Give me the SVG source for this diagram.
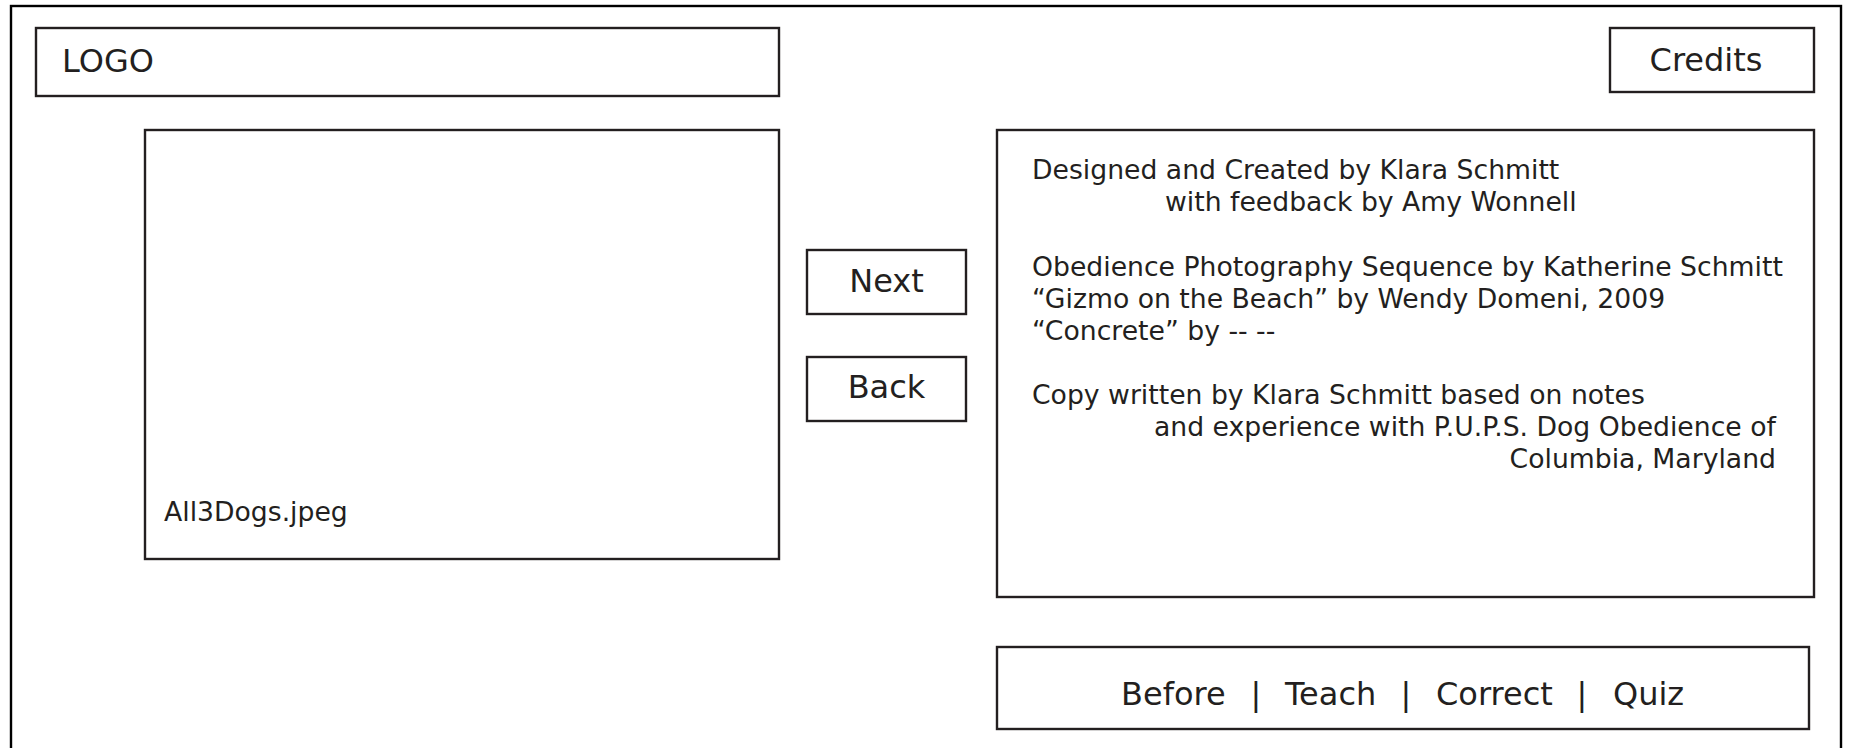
<svg xmlns="http://www.w3.org/2000/svg" width="1849" height="748" viewBox="0 0 1849 748">
<style>
.box{fill:#fff;stroke:#231f20;stroke-width:2.4}
.frame{fill:#fff;stroke:#000;stroke-width:2.4}
.t{font-family:"DejaVu Sans",Verdana,sans-serif;fill:#231f20}
.big{font-size:32px}
.mid{font-size:26.67px}
</style>
<rect x="0" y="0" width="1849" height="748" fill="#fff"/>
<rect class="frame" x="11" y="6" width="1830" height="770"/>
<g id="logo">
<rect class="box" x="36" y="28" width="743" height="68"/>
<text class="t big" x="62" y="72">LOGO</text>
</g>
<g id="credits-button">
<rect class="box" x="1610" y="28" width="204" height="64"/>
<text class="t big" x="1706" y="71" text-anchor="middle">Credits</text>
</g>
<g id="image">
<rect class="box" x="145" y="130" width="634" height="429"/>
<text class="t mid" x="164" y="521">All3Dogs.jpeg</text>
</g>
<g id="next">
<rect class="box" x="807" y="250" width="159" height="64"/>
<text class="t big" x="886.5" y="292" text-anchor="middle">Next</text>
</g>
<g id="back">
<rect class="box" x="807" y="357" width="159" height="64"/>
<text class="t big" x="886.5" y="398" text-anchor="middle">Back</text>
</g>
<g id="credits-text">
<rect class="box" x="997" y="130" width="817" height="467"/>
<text class="t mid">
<tspan x="1032" y="179">Designed and Created by Klara Schmitt</tspan>
<tspan x="1165" y="211">with feedback by Amy Wonnell</tspan>
<tspan x="1032" y="276">Obedience Photography Sequence by Katherine Schmitt</tspan>
<tspan x="1032" y="308">“Gizmo on the Beach” by Wendy Domeni, 2009</tspan>
<tspan x="1032" y="340">“Concrete” by -- --</tspan>
<tspan x="1032" y="404">Copy written by Klara Schmitt based on notes</tspan>
<tspan x="1154" y="436">and experience with P.U.P.S. Dog Obedience of</tspan>
<tspan x="1776" y="468" text-anchor="end">Columbia, Maryland</tspan>
</text>
</g>
<g id="nav">
<rect class="box" x="997" y="647" width="812" height="82"/>
<text class="t big" y="705"><tspan x="1121">Before</tspan><tspan x="1256" text-anchor="middle">|</tspan><tspan x="1285">Teach</tspan><tspan x="1406" text-anchor="middle">|</tspan><tspan x="1436">Correct</tspan><tspan x="1582" text-anchor="middle">|</tspan><tspan x="1613">Quiz</tspan></text>
</g>
<g id="connectors"></g>
</svg>
